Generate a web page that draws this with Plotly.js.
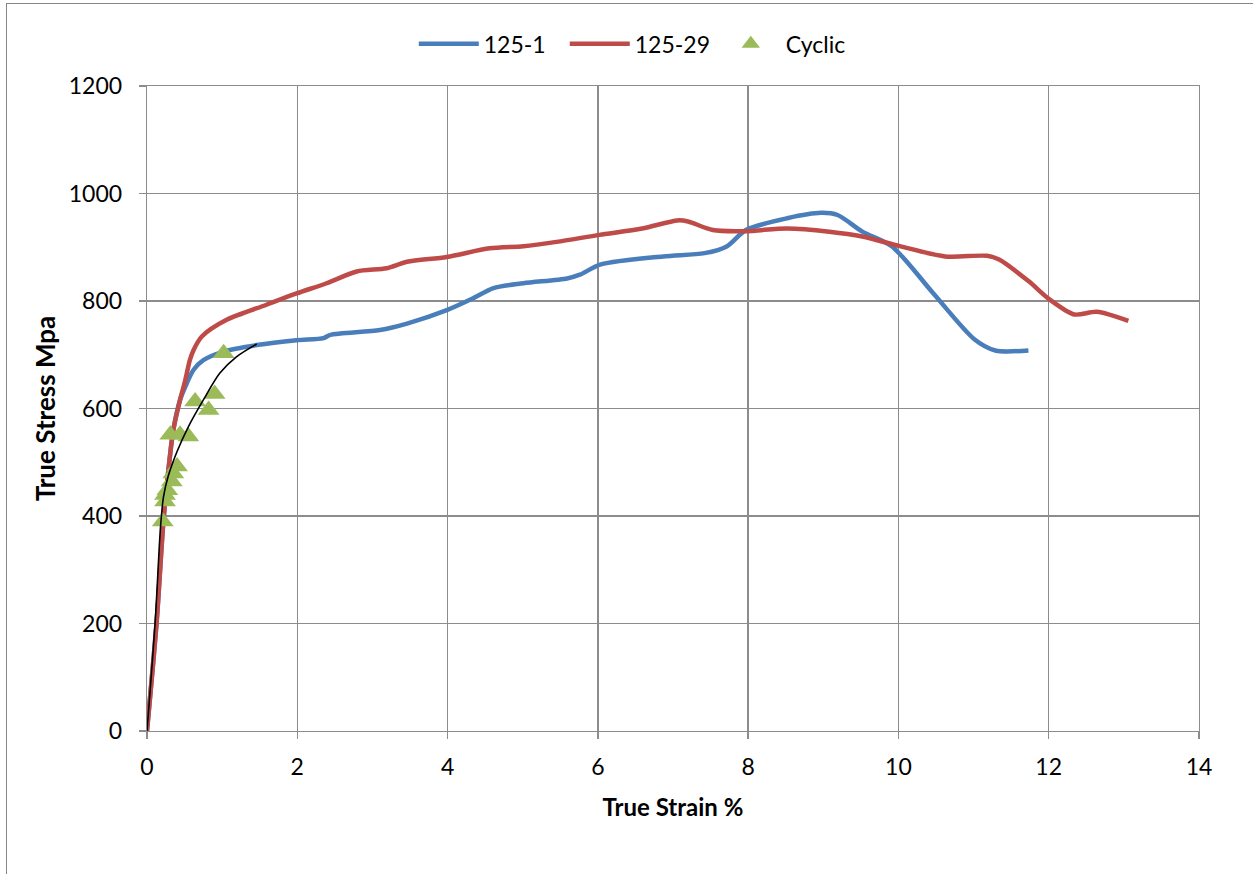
<!DOCTYPE html>
<html>
<head>
<meta charset="utf-8">
<script src="https://cdn.plot.ly/plotly-3.0.1.min.js"></script>
<style>
html,body{margin:0;padding:0;background:#fff;overflow:hidden;}
#chart{position:absolute;left:0;top:0;width:1253px;height:874px;}
#frame{position:absolute;left:6px;top:3px;width:1400px;height:1000px;border-left:1px solid #878787;border-top:1px solid #878787;pointer-events:none;}
</style>
</head>
<body>
<div id="chart"></div>
<div id="frame"></div>
<script>
const strain1251 = [0, 0.13, 0.22, 0.31, 0.35, 0.44, 0.53, 0.62, 0.75, 1.02, 1.46, 1.99, 2.35, 2.44, 3.10, 3.46, 3.99, 4.34, 4.61, 5.01, 5.59, 5.76, 6.04, 6.87, 7.42, 7.72, 7.97, 8.52, 8.97, 9.19, 9.52, 9.91, 10.46, 11.01, 11.29, 11.73];
const stress1251 = [0, 206, 393, 517, 560, 616, 647, 672, 690, 706, 718, 727, 731, 737, 746, 758, 783, 805, 824, 833, 842, 849, 868, 883, 889, 902, 932, 954, 964, 960, 929, 902, 815, 729, 708, 708];

const strain12529 = [0, 0.13, 0.22, 0.31, 0.35, 0.44, 0.51, 0.57, 0.62, 0.73, 1.06, 1.59, 1.99, 2.39, 2.79, 3.19, 3.46, 3.99, 4.56, 5.01, 5.45, 6.02, 6.59, 7.06, 7.20, 7.53, 7.97, 8.52, 9.08, 9.52, 10.02, 10.62, 11.18, 11.34, 11.73, 12.01, 12.34, 12.64, 13.06];
const stress12529 = [0, 206, 393, 517, 560, 616, 653, 690, 709, 734, 765, 793, 814, 833, 855, 861, 873, 882, 898, 902, 910, 923, 935, 950, 948, 932, 930, 935, 929, 920, 902, 883, 884, 877, 837, 803, 775, 780, 763];

const strainCyclic = [0.21, 0.24, 0.24, 0.27, 0.33, 0.35, 0.40, 0.31, 0.44, 0.55, 0.64, 0.82, 0.90, 1.02];
const stressCyclic = [390, 427, 439, 448, 464, 479, 492, 551, 551, 548, 613, 597, 627, 703];

const strainFit = [0, 0.11, 0.18, 0.22, 0.28, 0.40, 0.55, 0.75, 0.97, 1.19, 1.46];
const stressFit = [0, 206, 380, 436, 473, 520, 566, 616, 666, 696, 720];

const xTicks = [0, 2, 4, 6, 8, 10, 12, 14];
const yTicks = [0, 200, 400, 600, 800, 1000, 1200];

const FONT = 'Lato, "Open Sans", sans-serif';

const traces = [
  {x: strain1251, y: stress1251, name: '125-1', type: 'scatter', mode: 'lines',
   line: {color: '#4a7ebb', width: 4.5, shape: 'spline', smoothing: 0.8}},
  {x: strain12529, y: stress12529, name: '125-29', type: 'scatter', mode: 'lines',
   line: {color: '#be4b48', width: 4.5, shape: 'spline', smoothing: 0.8}},
  {x: strainCyclic, y: stressCyclic, name: 'Cyclic', type: 'scatter', mode: 'markers',
   marker: {symbol: 'triangle-up', size: 19, color: '#9bbb59', line: {width: 0}}},
  {x: strainFit, y: stressFit, name: 'fit', type: 'scatter', mode: 'lines', showlegend: false,
   line: {color: '#000000', width: 1.6, shape: 'spline', smoothing: 0.8}}
];

const layout = {
  width: 1253, height: 874,
  margin: {l: 147, r: 54, t: 86, b: 143},
  paper_bgcolor: '#ffffff', plot_bgcolor: '#ffffff',
  font: {family: FONT, size: 22, color: '#000'},
  showlegend: true,
  legend: {orientation: 'h', xref: 'container', yref: 'container', x: 0.511, xanchor: 'center',
    y: 0.95, yanchor: 'middle', font: {family: FONT, size: 23, color: '#000'},
    itemwidth: 60, entrywidth: 76, traceorder: 'normal', bgcolor: 'rgba(0,0,0,0)'},
  xaxis: {range: [0, 14], tickvals: xTicks, ticktext: xTicks.map(String),
    showgrid: true, gridcolor: '#8c8c8c', gridwidth: 1.3,
    zeroline: false, showline: true, linecolor: '#8c8c8c', linewidth: 1.3, mirror: true,
    ticks: 'outside', ticklen: 7, tickcolor: '#8c8c8c', tickwidth: 1.3,
    ticklabelstandoff: 8,
    tickfont: {family: FONT, size: 23, color: '#000'},
    title: {text: '<b>True Strain %</b>', font: {family: FONT, size: 24, color: '#000'}, standoff: 20}},
  yaxis: {range: [0, 1200], tickvals: yTicks, ticktext: yTicks.map(String),
    showgrid: true, gridcolor: '#8c8c8c', gridwidth: 1.3,
    zeroline: false, showline: true, linecolor: '#8c8c8c', linewidth: 1.3, mirror: true,
    ticks: 'outside', ticklen: 7, tickcolor: '#8c8c8c', tickwidth: 1.3,
    ticklabelstandoff: 12,
    tickfont: {family: FONT, size: 23, color: '#000'},
    title: {text: '<b>True Stress Mpa</b>', font: {family: FONT, size: 26, color: '#000'}, standoff: 5}}
};

Plotly.newPlot('chart', traces, layout, {displayModeBar: false, staticPlot: true});
</script>
</body>
</html>
